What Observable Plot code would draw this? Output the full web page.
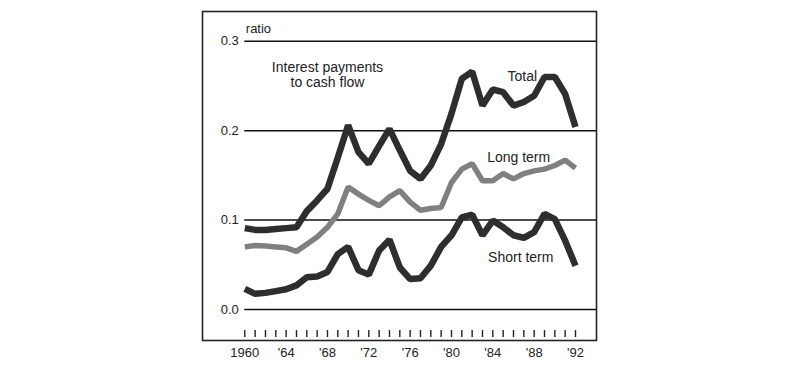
<!DOCTYPE html>
<html>
<head>
<meta charset="utf-8">
<script src="https://cdn.jsdelivr.net/npm/d3@7"></script>
<script src="https://cdn.jsdelivr.net/npm/@observablehq/plot@0.6"></script>
<style>
  html, body { margin: 0; padding: 0; background: #fff; }
  #chart svg { display: block; }
</style>
</head>
<body>
<div id="chart"></div>
<script>
const years = d3.range(1960, 1993);
const total = [0.091, 0.089, 0.089, 0.090, 0.091, 0.092, 0.110, 0.122, 0.135, 0.170, 0.206, 0.176, 0.163, 0.183, 0.202, 0.178, 0.155, 0.146, 0.161, 0.185, 0.219, 0.258, 0.266, 0.228, 0.246, 0.243, 0.228, 0.232, 0.239, 0.260, 0.260, 0.241, 0.204];
const longTerm = [0.070, 0.0716, 0.071, 0.070, 0.069, 0.065, 0.073, 0.081, 0.092, 0.107, 0.137, 0.129, 0.122, 0.116, 0.126, 0.133, 0.120, 0.111, 0.113, 0.114, 0.142, 0.157, 0.163, 0.144, 0.144, 0.152, 0.146, 0.152, 0.155, 0.157, 0.161, 0.167, 0.158];
const shortTerm = [0.023, 0.0175, 0.0186, 0.0205, 0.0227, 0.027, 0.036, 0.037, 0.042, 0.062, 0.070, 0.044, 0.039, 0.066, 0.078, 0.047, 0.034, 0.035, 0.049, 0.070, 0.083, 0.103, 0.106, 0.083, 0.0995, 0.092, 0.083, 0.080, 0.0865, 0.107, 0.101, 0.077, 0.049];
const yTicks = [0, 0.1, 0.2, 0.3];
const yTickLabels = ["0.0", "0.1", "0.2", "0.3"];
const xLabelYears = [1960, 1964, 1968, 1972, 1976, 1980, 1984, 1988, 1992];
const xLabels = ["1960", "'64", "'68", "'72", "'76", "'80", "'84", "'88", "'92"];
const unitLabel = "ratio";
const titleLines = ["Interest payments", "to cash flow"];
const seriesLabels = ["Total", "Long term", "Short term"];

const rows = (vals) => years.map((yr, i) => ({year: yr, value: vals[i]}));
const font = "'Liberation Sans', Arial, Helvetica, sans-serif";

const chart = Plot.plot({
  width: 800,
  height: 370,
  marginLeft: 202,
  marginRight: 204,
  marginTop: 11,
  marginBottom: 30,
  style: {fontFamily: font, background: "#fff", color: "#222"},
  x: {domain: [1960, 1992], range: [244.3, 575], axis: null},
  y: {domain: [0, 0.3], range: [309, 40.7], axis: null},
  marks: [
    Plot.frame({stroke: "#222", strokeWidth: 1.6}),
    Plot.ruleY(yTicks, {y: d => d, x1: 1960, x2: 1994.03, stroke: "#111", strokeWidth: 1.5}),
    Plot.ruleX(years, {x: d => d, y1: -0.0235, y2: -0.0313, stroke: "#222", strokeWidth: 1.4}),
    Plot.text(xLabelYears, {x: d => d, y: -0.0313, dy: 15, text: (d, i) => xLabels[i], fontSize: 13, fill: "#222", textAnchor: "middle"}),
    Plot.text(yTicks, {x: 1960, y: d => d, dx: -6, text: (d, i) => yTickLabels[i], fontSize: 13, fill: "#222", textAnchor: "end"}),
    Plot.text([unitLabel], {x: 1960, y: 0.3142, dx: 1, text: d => d, fontSize: 13, fill: "#222", textAnchor: "start"}),
    Plot.text([titleLines[0]], {x: 1968.0, y: 0.2617, dy: -7.5, text: d => d, fontSize: 14, fill: "#222", textAnchor: "middle", lineAnchor: "middle"}),
    Plot.text([titleLines[1]], {x: 1968.0, y: 0.2617, dy: 7.5, text: d => d, fontSize: 14, fill: "#222", textAnchor: "middle", lineAnchor: "middle"}),
    Plot.line(rows(longTerm), {x: "year", y: "value", stroke: "#808080", strokeWidth: 5.5, strokeLinejoin: "miter", strokeLinecap: "butt"}),
    Plot.line(rows(total), {x: "year", y: "value", stroke: "#2e2e2e", strokeWidth: 6.5, strokeLinejoin: "miter", strokeLinecap: "butt"}),
    Plot.line(rows(shortTerm), {x: "year", y: "value", stroke: "#2e2e2e", strokeWidth: 6.5, strokeLinejoin: "miter", strokeLinecap: "butt"}),
    Plot.text([seriesLabels[0]], {x: 1986.85, y: 0.2605, text: d => d, fontSize: 14, fill: "#222", textAnchor: "middle"}),
    Plot.text([seriesLabels[1]], {x: 1986.5, y: 0.170, text: d => d, fontSize: 14, fill: "#222", textAnchor: "middle"}),
    Plot.text([seriesLabels[2]], {x: 1986.7, y: 0.0581, text: d => d, fontSize: 14, fill: "#222", textAnchor: "middle"})
  ]
});
document.getElementById("chart").appendChild(chart);
</script>
</body>
</html>
